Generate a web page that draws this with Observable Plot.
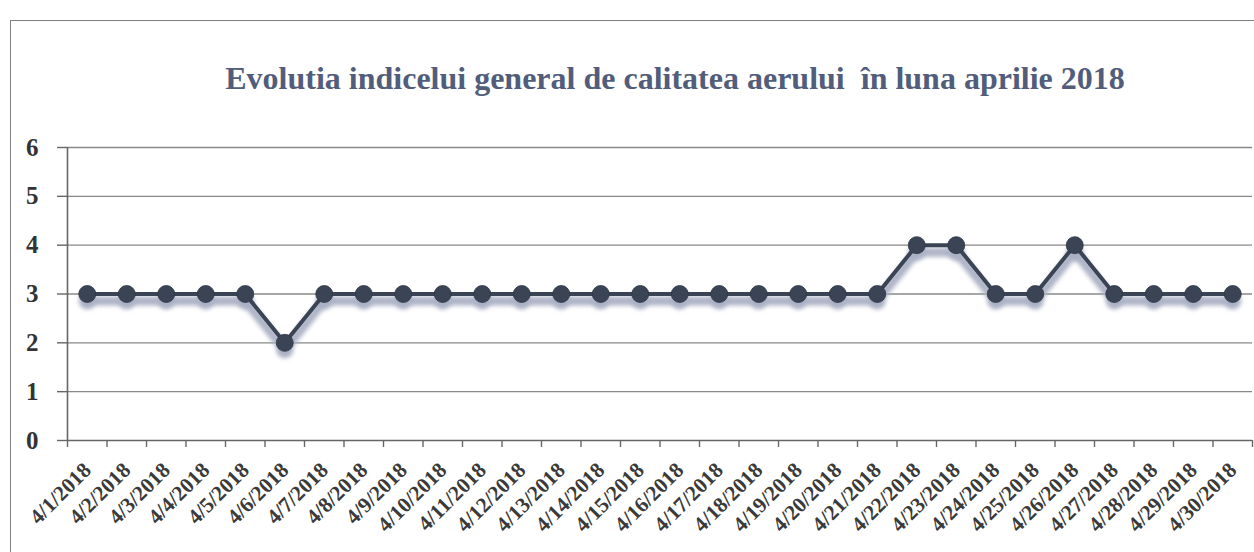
<!DOCTYPE html>
<html>
<head>
<meta charset="utf-8">
<script src="https://cdn.jsdelivr.net/npm/d3@7"></script>
<script src="https://cdn.jsdelivr.net/npm/@observablehq/plot@0.6"></script>
<style>
  html, body { margin: 0; padding: 0; background: #fff; }
  #wrap { position: relative; width: 1254px; height: 552px; overflow: hidden; }
  #frame { position: absolute; left: 10px; top: 20px; width: 1300px; height: 600px; border: 1.5px solid #808080; box-sizing: border-box; }
  #title { position: absolute; left: 96px; width: 1158px; top: 60px; text-align: center;
           font-family: "Liberation Serif", "DejaVu Serif", serif; font-weight: bold; font-size: 32px;
           line-height: 36px; color: #515d7b; white-space: pre; }
  #chart { position: absolute; left: 0; top: 110px; }
</style>
</head>
<body>
<div id="wrap">
  <div id="frame"></div>
  <div id="title">Evolutia indicelui general de calitatea aerului  în luna aprilie 2018</div>
  <div id="chart"></div>
</div>
<script>
const dates = ["4/1/2018","4/2/2018","4/3/2018","4/4/2018","4/5/2018","4/6/2018","4/7/2018","4/8/2018","4/9/2018","4/10/2018",
  "4/11/2018","4/12/2018","4/13/2018","4/14/2018","4/15/2018","4/16/2018","4/17/2018","4/18/2018","4/19/2018","4/20/2018",
  "4/21/2018","4/22/2018","4/23/2018","4/24/2018","4/25/2018","4/26/2018","4/27/2018","4/28/2018","4/29/2018","4/30/2018"];
const values = [3,3,3,3,3,2,3,3,3,3, 3,3,3,3,3,3,3,3,3,3, 3,4,4,3,3,4,3,3,3,3];
const yTicks = [0,1,2,3,4,5,6];

const data = dates.map((d, i) => ({date: d, i, value: values[i]}));
const boundaries = d3.range(dates.length + 1).map(k => k - 0.5);

const lineColor = "#3b4454";
const shadowColor = "#aab0c4";

const chart = Plot.plot({
  width: 1254,
  height: 442,
  marginTop: 37,
  marginBottom: 112,
  marginLeft: 67,
  marginRight: 2,
  style: {fontFamily: "'Liberation Serif', 'DejaVu Serif', serif", background: "transparent"},
  x: {type: "linear", domain: [-0.5, dates.length - 0.5], axis: null},
  y: {domain: [0, 6], axis: null},
  marks: [
    Plot.ruleY(yTicks.filter(v => v > 0), {stroke: "#888", strokeWidth: 1.3}),
    Plot.ruleY([0], {stroke: "#666", strokeWidth: 1.6}),
    Plot.ruleX([-0.5], {y1: 0, y2: 6, stroke: "#666", strokeWidth: 1.6}),
    Plot.axisY({ticks: yTicks, tickSize: 10, tickPadding: 19, stroke: "#666", strokeWidth: 1.4, label: null,
      fontSize: 25, fontWeight: "bold", fill: "#333", tickFormat: d => String(d)}),
    Plot.axisX({ticks: boundaries, tickSize: 7, stroke: "#666", strokeWidth: 1.4, label: null, tickFormat: () => ""}),
    Plot.text(data, {x: "i", text: "date", frameAnchor: "bottom", textAnchor: "end", lineAnchor: "bottom",
      rotate: -45, dx: 5, dy: 31, fontSize: 21.5, fontWeight: "bold", fill: "#3a3a3a"}),
    // shadow
    Plot.line(data, {x: "i", y: "value", stroke: shadowColor, strokeWidth: 9, dy: 7, strokeOpacity: 0.95}),
    Plot.dot(data, {x: "i", y: "value", r: 8.5, fill: shadowColor, dy: 7, fillOpacity: 0.95}),
    // line
    Plot.line(data, {x: "i", y: "value", stroke: lineColor, strokeWidth: 4}),
    Plot.dot(data, {x: "i", y: "value", r: 8.5, fill: lineColor, stroke: "#2f3745", strokeWidth: 0.8})
  ]
});
document.getElementById("chart").appendChild(chart);
// soften shadow
const lines = chart.querySelectorAll('g[aria-label="line"]');
const dots = chart.querySelectorAll('g[aria-label="dot"]');
if (lines[0]) lines[0].style.filter = "blur(2px)";
if (dots[0]) dots[0].style.filter = "blur(2px)";
</script>
</body>
</html>
